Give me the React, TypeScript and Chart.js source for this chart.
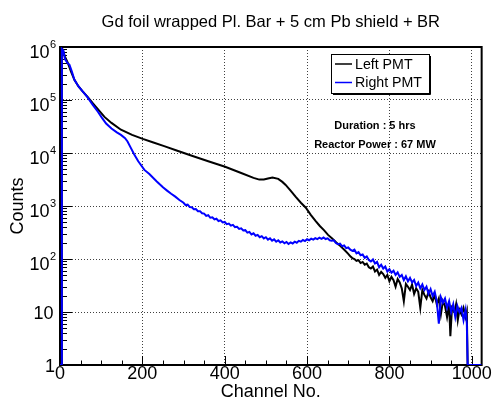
import React, { useEffect, useRef } from "react";
import { Chart, registerables } from "chart.js";

Chart.register(...registerables);

const TITLE = "Gd foil wrapped Pl. Bar + 5 cm Pb shield + BR";
const X_LABEL = "Channel No.";
const Y_LABEL = "Counts";
const X_TICKS = [0, 200, 400, 600, 800, 1000];
const Y_TICKS = [1, 10, 100, 1000, 10000, 100000, 1000000];
// base and exponent of each y tick label ("" = no exponent)
const Y_TICK_BASES = ["1", "10", "10", "10", "10", "10", "10"];
const Y_TICK_EXPONENTS = ["", "", "2", "3", "4", "5", "6"];
const SERIES_NAMES = ["Left PMT", "Right PMT"];
const NOTES = ["Duration : 5 hrs", "Reactor Power : 67 MW"];

// [channel, counts]
const leftPMT: [number, number][] = [
  [0, 1], [4.5, 1], [4.5, 9.5e5], [7, 8.8e5], [12, 6.6e5], [19, 5.0e5], [27, 3.4e5], [35, 2.4e5],
  [45, 1.8e5], [55, 1.45e5], [67, 1.15e5], [80, 8.6e4], [95, 6.3e4], [108, 4.8e4], [125, 3.7e4],
  [148, 2.75e4], [175, 2.2e4], [201, 1.85e4], [225, 1.6e4], [253, 1.35e4], [285, 1.1e4],
  [322, 8.8e3], [360, 7.0e3], [401, 5.5e3], [440, 4.2e3], [470, 3.4e3], [484, 3.15e3],
  [495, 3.15e3], [505, 3.3e3], [516, 3.45e3], [530, 3.25e3], [540, 2.85e3], [548, 2.5e3],
  [560, 1.95e3], [572, 1.5e3], [585, 1.15e3], [597, 930], [609, 680], [621, 520], [631, 420],
  [641, 350], [651, 285], [661, 245], [671, 205], [681, 175], [691, 148], [700, 125],
  [705, 112], [710, 104], [715, 100], [720, 92], [725, 95], [730, 84], [735, 88], [740, 78],
  [745, 82], [750, 70], [755, 66], [760, 72], [765, 58], [770, 63], [775, 50], [780, 57],
  [785, 52], [790, 44], [795, 50], [800, 38], [805, 46], [810, 40], [815, 30], [820, 42],
  [825, 36], [830, 28], [835, 16], [840, 34], [845, 30], [850, 26], [855, 33], [860, 22],
  [865, 28], [870, 24], [875, 12], [880, 26], [885, 21], [890, 18], [895, 24], [900, 19],
  [905, 16], [910, 21], [915, 14], [920, 18], [925, 9], [930, 16], [935, 13], [940, 8],
  [945, 14], [948, 3.5], [952, 12], [958, 10], [962, 14], [966, 7], [970, 11], [975, 9],
  [980, 12], [985, 8], [988, 10], [990, 1], [1024, 1],
];

const rightPMT: [number, number][] = [
  [0, 1], [4.5, 1], [4.5, 9.2e5], [8, 8.6e5], [12, 5.9e5], [18, 5.0e5], [23, 4.6e5], [29, 3.4e5],
  [35, 2.4e5], [45, 1.8e5], [55, 1.45e5], [67, 1.12e5], [80, 8.0e4], [92, 6.0e4], [102, 4.6e4],
  [112, 3.6e4], [125, 2.9e4], [138, 2.45e4], [148, 2.2e4], [158, 1.9e4], [164, 1.65e4],
  [172, 1.25e4], [180, 9.5e3], [190, 7.0e3], [205, 4.8e3], [217, 4.0e3], [235, 2.9e3],
  [250, 2.25e3], [260, 1.95e3], [270, 1.7e3], [280, 1.5e3], [290, 1.3e3],
  [300, 1150], [305, 1040], [310, 1060], [315, 960], [320, 950], [325, 870], [330, 880],
  [335, 800], [340, 800], [345, 730], [350, 720], [355, 650], [360, 670], [365, 600],
  [370, 610], [375, 560], [380, 575], [385, 520], [390, 535], [395, 490], [400, 500],
  [405, 455], [410, 465], [415, 425], [420, 440], [425, 400], [430, 405], [435, 370],
  [440, 380], [445, 345], [450, 350], [455, 315], [460, 325], [465, 290], [470, 305],
  [475, 275], [480, 285], [485, 258], [490, 270], [495, 245], [500, 258], [505, 232],
  [510, 245], [515, 222], [520, 235], [525, 212], [530, 226], [535, 205], [540, 215],
  [545, 198], [550, 210], [555, 192], [560, 205], [565, 196], [570, 212], [575, 203],
  [580, 220], [585, 212], [590, 228], [595, 218], [600, 236], [605, 226], [610, 242],
  [615, 232], [620, 248], [625, 238], [630, 252], [635, 240], [640, 254], [645, 238],
  [650, 246], [655, 226], [660, 222], [665, 225], [670, 200], [675, 190], [680, 195],
  [685, 175], [690, 180], [695, 160], [700, 165], [705, 150], [710, 142], [715, 150],
  [720, 128], [725, 135], [730, 118], [735, 122], [740, 105], [745, 112], [750, 96],
  [755, 90], [760, 98], [765, 82], [770, 88], [775, 70], [780, 78], [785, 66], [790, 72],
  [795, 58], [800, 64], [805, 55], [810, 60], [815, 50], [820, 56], [825, 46], [830, 50],
  [835, 40], [840, 47], [845, 38], [850, 44], [855, 36], [860, 40], [865, 31], [870, 36],
  [875, 28], [880, 33], [885, 26], [890, 30], [895, 22], [900, 27], [905, 20], [910, 24],
  [915, 16], [920, 6], [925, 19], [930, 15], [935, 18], [940, 12], [945, 16], [950, 10],
  [955, 14], [960, 8], [965, 13], [970, 10], [975, 12], [980, 7], [985, 11], [988, 6],
  [990, 1], [1024, 1],
];

const FONT = '"Liberation Sans", Arial, Helvetica, sans-serif';

const decorPlugin = {
  id: "decor",
  beforeDatasetsDraw(chart: any) {
    const { ctx, chartArea: a, scales } = chart;
    const xs = scales.x;
    const ys = scales.y;
    ctx.save();
    ctx.strokeStyle = "#000";
    ctx.lineWidth = 1;
    ctx.beginPath();
    for (let v = 0; v <= xs.max; v += 50) {
      const px = Math.round(xs.getPixelForValue(v)) + 0.5;
      const len = v % 200 === 0 ? 9 : 4.5;
      ctx.moveTo(px, a.bottom);
      ctx.lineTo(px, a.bottom - len);
    }
    for (let d = 0; d < 6; d++) {
      for (let m = 1; m <= 9; m++) {
        const v = m * Math.pow(10, d);
        const py = Math.round(ys.getPixelForValue(v)) + 0.5;
        const len = m === 1 ? 12 : 7;
        ctx.moveTo(a.left, py);
        ctx.lineTo(a.left + len, py);
      }
    }
    ctx.stroke();
    ctx.lineWidth = 2;
    ctx.strokeRect(a.left, a.top, a.right - a.left, a.bottom - a.top);

    // y tick labels: base with raised exponent
    ctx.fillStyle = "#000";
    ctx.textBaseline = "middle";
    Y_TICKS.forEach((v, i) => {
      const py = ys.getPixelForValue(v);
      const exp = Y_TICK_EXPONENTS[i];
      if (exp) {
        ctx.font = `18px ${FONT}`;
        ctx.textAlign = "right";
        ctx.fillText(Y_TICK_BASES[i], a.left - 10.5, py + 6);
        ctx.font = `11px ${FONT}`;
        ctx.textAlign = "left";
        ctx.fillText(exp, a.left - 10, py - 2);
      } else {
        ctx.font = `18px ${FONT}`;
        ctx.textAlign = "right";
        const off = Y_TICK_BASES[i].length === 1 ? 5 : 6.5;
        ctx.fillText(Y_TICK_BASES[i], a.left - off, py + 2);
      }
    });
    ctx.restore();
  },
  afterDatasetsDraw(chart: any) {
    const { ctx, chartArea: a } = chart;
    ctx.save();
    // title
    ctx.fillStyle = "#000";
    ctx.font = `16.5px ${FONT}`;
    ctx.textAlign = "center";
    ctx.textBaseline = "alphabetic";
    ctx.fillText(TITLE, (a.left + a.right) / 2, 27);

    // legend box
    const bx = 331, by = 54, bw = 98, bh = 39;
    ctx.fillStyle = "#fff";
    ctx.fillRect(bx, by, bw, bh);
    ctx.strokeStyle = "#000";
    ctx.lineWidth = 1;
    ctx.strokeRect(bx + 0.5, by + 0.5, bw, bh);
    ctx.beginPath();
    ctx.moveTo(bx + bw + 1.5, by + 2);
    ctx.lineTo(bx + bw + 1.5, by + bh + 1.5);
    ctx.lineTo(bx + 2, by + bh + 1.5);
    ctx.stroke();
    const colors = ["#000000", "#0000ff"];
    const rows = [64, 82.5];
    ctx.font = `14.2px ${FONT}`;
    ctx.textAlign = "left";
    ctx.textBaseline = "middle";
    SERIES_NAMES.forEach((name, i) => {
      ctx.strokeStyle = colors[i];
      ctx.lineWidth = 1.5;
      ctx.beginPath();
      ctx.moveTo(335, rows[i]);
      ctx.lineTo(352, rows[i]);
      ctx.stroke();
      ctx.fillStyle = "#000";
      ctx.fillText(name, 355, rows[i] + 1);
    });

    // notes
    ctx.font = `bold 11px ${FONT}`;
    ctx.textAlign = "center";
    ctx.fillText(NOTES[0], 375, 126);
    ctx.fillText(NOTES[1], 375, 145);
    ctx.restore();
  },
};

export default function App() {
  const ref = useRef<HTMLCanvasElement | null>(null);

  useEffect(() => {
    if (!ref.current) return;
    const chart = new Chart(ref.current, {
      type: "line",
      data: {
        datasets: [
          {
            label: SERIES_NAMES[1],
            data: rightPMT.map(([x, y]) => ({ x, y })),
            borderColor: "#0000ff",
            borderWidth: 2,
            pointRadius: 0,
            tension: 0,
            order: 0,
          },
          {
            label: SERIES_NAMES[0],
            data: leftPMT.map(([x, y]) => ({ x, y })),
            borderColor: "#000000",
            borderWidth: 2,
            pointRadius: 0,
            tension: 0,
            order: 1,
          },
        ],
      },
      options: {
        animation: false,
        responsive: true,
        maintainAspectRatio: false,
        layout: { padding: { top: 47, right: 9, left: 0, bottom: 0 } },
        plugins: {
          legend: { display: false },
          title: { display: false },
          tooltip: { enabled: false },
        },
        scales: {
          x: {
            type: "linear",
            min: 0,
            max: 1024,
            afterBuildTicks: (s: any) => {
              s.ticks = X_TICKS.map((v) => ({ value: v }));
            },
            afterFit: (s: any) => {
              s.height = 35;
            },
            grid: { color: "rgba(0,0,0,0.75)", lineWidth: 1, drawTicks: false },
            border: { display: false, dash: [1, 2] },
            ticks: {
              color: "#000",
              padding: 0,
              maxRotation: 0,
              autoSkip: false,
              font: { family: FONT, size: 18, lineHeight: 1 },
              callback: (v: any) => String(v),
            },
            title: {
              display: true,
              text: X_LABEL,
              color: "#000",
              font: { family: FONT, size: 18, lineHeight: 0.9 },
              padding: { top: 0, bottom: 0 },
            },
          },
          y: {
            type: "logarithmic",
            min: 1,
            max: 1000000,
            afterBuildTicks: (s: any) => {
              s.ticks = Y_TICKS.map((v) => ({ value: v }));
            },
            afterFit: (s: any) => {
              s.width = 60;
            },
            grid: { color: "rgba(0,0,0,0.75)", lineWidth: 1, drawTicks: false },
            border: { display: false, dash: [1, 2] },
            ticks: { display: false },
            title: {
              display: true,
              text: Y_LABEL,
              color: "#000",
              font: { family: FONT, size: 18, lineHeight: 1 },
              padding: { top: 9, bottom: 0 },
            },
          },
        },
      },
      plugins: [decorPlugin],
    });
    return () => chart.destroy();
  }, []);

  return (
    <div style={{ position: "absolute", left: 0, top: 0, width: 492, height: 400, background: "#fff" }}>
      <canvas ref={ref} />
    </div>
  );
}
